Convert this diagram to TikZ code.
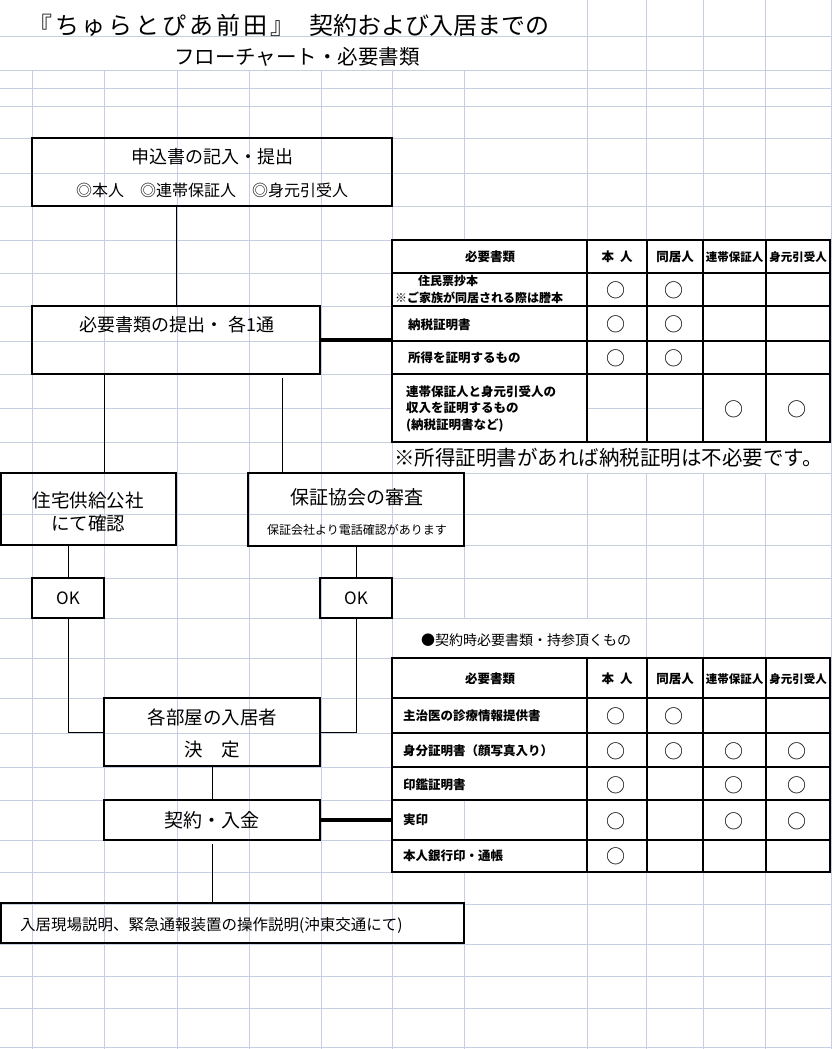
\documentclass[tikz,border=0pt]{standalone}
\usepackage{fontspec}
\setmainfont{Noto Sans CJK JP}
\newfontfamily\titlefont{Noto Sans CJK JP}[LetterSpace=12]
\definecolor{sheetgrid}{RGB}{198,207,224}
\newcommand{\fsz}[1]{\fontsize{#1}{#1}\selectfont}
\tikzset{
	sheet/.style={draw=sheetgrid, line width=1pt},
	box/.style={draw, line width=2pt, inner sep=0pt},
	txt/.style={inner sep=0pt},
	link/.style={line width=1pt},
	heavy/.style={line width=3.2pt},
	tabframe/.style={draw, fill=white, line width=2.2pt, inner sep=0pt},
	tabrule/.style={line width=1.4pt},
	cell/.style={inner sep=0pt, anchor=west, font=\bfseries\fsz{12.5}},
	head/.style={inner sep=0pt, font=\bfseries\fsz{12.5}},
	maru/.style={inner sep=0pt, font=\fsz{19}}
}

\begin{document}
\begin{tikzpicture}[x=1pt, y=-1pt]
		\useasboundingbox (0,0) rectangle (832,1049);
		
		% Sheet grid
		\foreach \x in {32,104,177,249,321,392,464,587,646,703,765,831}
			\draw[sheet] (\x,0) -- (\x,1049);
		\fill[white] (0,0) rectangle (586,71);        % title rows
		\fill[white] (393,442) rectangle (830,473);   % note row
		\fill[white] (393,618) rectangle (645,658);   % bullet row
		\foreach \y in {37,71,88,106,138,173,206,240,273,306,341,374,408,442,473,514,545,578,618,658,698,733,767,800,840,872,904,944,976,1008,1047}
			\draw[sheet] (0,\y) -- (832,\y);
		
		% Title
		\node[txt, anchor=west, font=\titlefont\fsz{24}] (title) at (28,25) {『ちゅらとぴあ前田』};
		\node[txt, anchor=west, font=\fsz{24}] (titleB) at (309,25) {契約および入居までの};
		\node[txt, font=\fsz{20.5}] (subtitle) at (297,57) {フローチャート・必要書類};
		
		% Flow boxes
		\node[box, minimum width=360, minimum height=68] (apply) at (212,172) {};
		\node[txt, font=\fsz{18}] (applyA) at (212,157) {申込書の記入・提出};
		\node[txt, font=\fsz{16}] (applyB) at (212,190) {◎本人　◎連帯保証人　◎身元引受人};
		
		\node[box, minimum width=288, minimum height=68] (submit) at (176,340) {};
		\node[txt, font=\fsz{18}] (submitA) at (177,325) {必要書類の提出・ 各1通};
		
		\node[box, minimum width=175, minimum height=72] (kosha) at (88.5,509) {};
		\node[txt, font=\fsz{18.5}] (koshaA) at (88,500) {住宅供給公社};
		\node[txt, font=\fsz{18.5}] (koshaB) at (88,523) {にて確認};
		
		\node[box, minimum width=216, minimum height=73] (hosho) at (356,509.5) {};
		\node[txt, font=\fsz{19}] (hoshoA) at (357,497) {保証協会の審査};
		\node[txt, font=\fsz{12}] (hoshoB) at (357,530) {保証会社より電話確認があります};
		
		\node[box, minimum width=72, minimum height=40, font=\fsz{17}] (okA) at (68,598) {OK};
		\node[box, minimum width=72, minimum height=40, font=\fsz{17}] (okB) at (356,598) {OK};
		
		\node[box, minimum width=216, minimum height=68] (decide) at (212,732) {};
		\node[txt, font=\fsz{18.5}] (decideA) at (212.5,717) {各部屋の入居者};
		\node[txt, font=\fsz{18.5}] (decideB) at (212.5,750) {決　定};
		
		\node[box, minimum width=216, minimum height=40, font=\fsz{19}] (contract) at (212,820) {契約・入金};
		
		\node[box, minimum width=463, minimum height=40] (explain) at (232.5,923) {};
		\node[txt, anchor=west, font=\fsz{15.5}] (explainA) at (20,925) {入居現場説明、緊急通報装置の操作説明(沖東交通にて)};
		
		% Table of documents to hand in
		\node[tabframe, minimum width=438, minimum height=202] (docsA) at (611,341) {};
		\draw[sheet] (587,408) -- (703,408);
		\foreach \x in {587,647,703,766}
			\draw[tabrule] (\x,240) -- (\x,442);
		\foreach \y in {273,306,341,374}
			\draw[tabrule] (392,\y) -- (830,\y);
		\node[head] (hA1) at (490,257) {必要書類};
		\node[head] (hA2) at (617,257) {本\hspace{6pt}人};
		\node[head] (hA3) at (675,257) {同居人};
		\node[head, font=\bfseries\fsz{11.5}] (hA4) at (734.5,257) {連帯保証人};
		\node[head, font=\bfseries\fsz{11.5}] (hA5) at (798,257) {身元引受人};
		\node[cell, font=\bfseries\fsz{12}] (rA1) at (418,281) {住民票抄本};
		\node[cell, font=\bfseries\fsz{12}] (rA1b) at (395,297.5) {※ご家族が同居される際は謄本};
		\node[cell] (rA2) at (408,325) {納税証明書};
		\node[cell] (rA3) at (408,358) {所得を証明するもの};
		\node[cell] (rA4) at (406,392) {連帯保証人と身元引受人の};
		\node[cell] (rA4b) at (406,408) {収入を証明するもの};
		\node[cell] (rA4c) at (406,425) {(納税証明書など)};
		\foreach \x/\y [count=\i] in {616/290,674/290,616/324,674/324,616/358,674/358,734/409,797/409}
			\node[maru] (mA\i) at (\x,\y) {○};
		\node[txt, anchor=west, font=\fsz{20.5}] (note) at (394,458) {※所得証明書があれば納税証明は不必要です。};
		
		% Table of documents to bring
		\node[txt, anchor=west, font=\fsz{14}] (bring) at (421,640) {●契約時必要書類・持参頂くもの};
		\node[tabframe, minimum width=438, minimum height=214] (docsB) at (611,765) {};
		\draw[sheet] (464,800) -- (464,840);
		\foreach \x in {587,647,703,766}
			\draw[tabrule] (\x,658) -- (\x,872);
		\foreach \y in {698,733,767,800,840}
			\draw[tabrule] (392,\y) -- (830,\y);
		\node[head] (hB1) at (490,679) {必要書類};
		\node[head] (hB2) at (617,679) {本\hspace{6pt}人};
		\node[head] (hB3) at (675,679) {同居人};
		\node[head, font=\bfseries\fsz{11.5}] (hB4) at (734.5,679) {連帯保証人};
		\node[head, font=\bfseries\fsz{11.5}] (hB5) at (798,679) {身元引受人};
		\node[cell] (rB1) at (403,716) {主治医の診療情報提供書};
		\node[cell] (rB2) at (403,751) {身分証明書（顔写真入り）};
		\node[cell] (rB3) at (403,785) {印鑑証明書};
		\node[cell] (rB4) at (403,820) {実印};
		\node[cell] (rB5) at (403,856) {本人銀行印・通帳};
		\foreach \x/\y [count=\i] in {616/716,674/716,616/751,674/751,734/751,797/751,616/785,734/785,797/785,616/821,734/821,797/821,616/856}
			\node[maru] (mB\i) at (\x,\y) {○};
		
		% Connectors
		\draw[link] (submit.north |- apply.south) -- (submit.north);
		\draw[link] ([xshift=15.5]kosha.north |- submit.south) -- ([xshift=15.5]kosha.north);
		\draw[link, shorten <=3pt] ([xshift=-74]hosho.north |- submit.south) -- ([xshift=-74]hosho.north);
		\draw[link] (okA.north |- kosha.south) -- (okA.north);
		\draw[link] (okB.north |- hosho.south) -- (okB.north);
		\draw[link] (okA.south) |- (decide.west);
		\draw[link] (okB.south) |- (decide.east);
		\draw[link] (decide.south) -- (contract.north);
		\draw[link, shorten <=3pt] (contract.south) -- (contract.south |- explain.north);
		\draw[heavy] (submit.east) -- (submit.east -| docsA.west);   % to documents table
		\draw[heavy] (contract.east) -- (contract.east -| docsB.west); % to documents table
		
	\end{tikzpicture}
\end{document}
